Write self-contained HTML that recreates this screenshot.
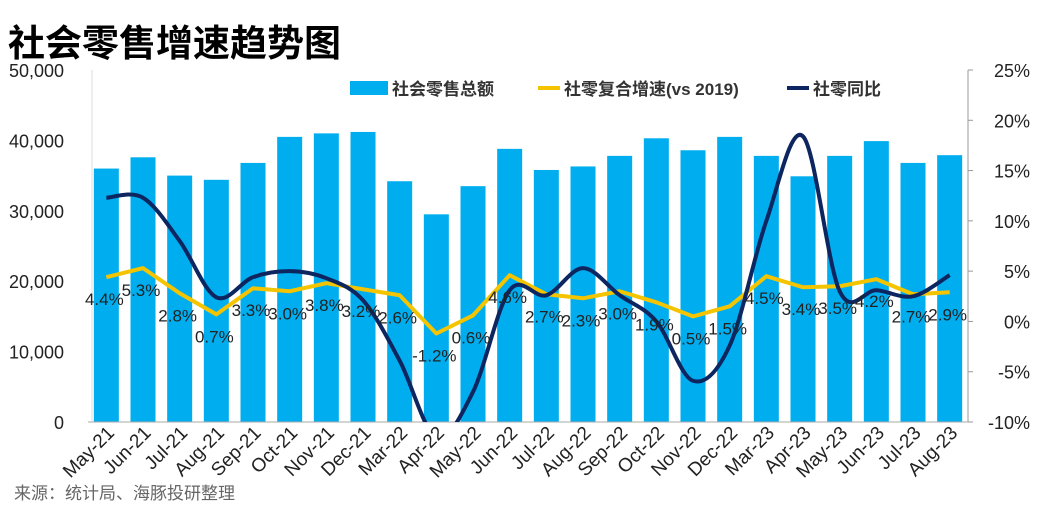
<!DOCTYPE html>
<html><head><meta charset="utf-8"><style>
body{margin:0;background:#fff;width:1050px;height:507px;overflow:hidden;font-family:"Liberation Sans","Noto Sans CJK SC",sans-serif}
</style></head><body>
<svg id="c" width="1050" height="507" xmlns="http://www.w3.org/2000/svg">
<text x="8" y="56" font-size="37" font-weight="bold" font-family="Liberation Sans, Noto Sans CJK SC, sans-serif">社会零售增速趋势图</text>
<text x="14" y="499" font-size="17" fill="#666" font-family="Liberation Sans, Noto Sans CJK SC, sans-serif">来源：统计局、海豚投研整理</text>
<g id="plot"></g>
</svg>
<script>
const categories=["May-21","Jun-21","Jul-21","Aug-21","Sep-21","Oct-21","Nov-21","Dec-21","Mar-22","Apr-22","May-22","Jun-22","Jul-22","Aug-22","Sep-22","Oct-22","Nov-22","Dec-22","Mar-23","Apr-23","May-23","Jun-23","Jul-23","Aug-23"];
const retailTotal=[36000,37600,35000,34400,36800,40500,41000,41200,34200,29500,33500,38800,35800,36300,37800,40300,38600,40500,37800,34900,37800,39900,36800,37900];
const cagrVs2019=[4.4,5.3,2.8,0.7,3.3,3.0,3.8,3.2,2.6,-1.2,0.6,4.6,2.7,2.3,3.0,1.9,0.5,1.5,4.5,3.4,3.5,4.2,2.7,2.9];
const yoy=[12.3,12.3,8.0,2.4,4.4,5.0,4.3,2.1,-3.9,-11.5,-7.0,3.1,2.6,5.3,2.6,0.0,-5.9,-2.4,10.0,18.4,3.0,3.1,2.5,4.6];
const leftTicks=[0,10000,20000,30000,40000,50000];
const rightTicks=[-10,-5,0,5,10,15,20,25];

const NS="http://www.w3.org/2000/svg";
const g=document.getElementById('plot');
const X0=88,X1=968,Y0=422,Y1=70;
const bw=(X1-X0)/categories.length;
const xc=i=>X0+bw*(i+0.5);
const yl=v=>Y0-(v/50000)*(Y0-Y1);
const yr=v=>Y0-((v+10)/35)*(Y0-Y1);
function el(t,a,txt){const e=document.createElementNS(NS,t);for(const k in a)e.setAttribute(k,a[k]);if(txt!=null)e.textContent=txt;g.appendChild(e);return e;}
const fmt=n=>n.toLocaleString('en-US');

const defs=el('defs',{});
const cp=document.createElementNS(NS,'clipPath');cp.setAttribute('id','clip');
const cr=document.createElementNS(NS,'rect');cr.setAttribute('x',X0);cr.setAttribute('y',Y1-10);cr.setAttribute('width',X1-X0);cr.setAttribute('height',Y0-Y1+10);
cp.appendChild(cr);defs.appendChild(cp);

leftTicks.forEach(v=>{
 const t=el('text',{x:64,y:yl(v)+7,'font-size':18,'text-anchor':'end',fill:'#222'},fmt(v));
 
 
});
rightTicks.forEach(v=>{
 const t=el('text',{x:1030,y:yr(v)+7,'font-size':18,'text-anchor':'end',fill:'#222'},v+'%');
 
 
 const m=el('line',{x1:X1,x2:X1+5,y1:yr(v),y2:yr(v),stroke:'#999'});
 
 
});
const ax=el('line',{x1:X1,x2:X1,y1:Y1,y2:Y0,stroke:'#999'});


const ax2=el('line',{x1:92,x2:92,y1:Y1,y2:Y0,stroke:'#ddd'});



retailTotal.forEach((v,i)=>{
 const r=el('rect',{x:xc(i)-12.5,y:yl(v),width:25,height:Y0-yl(v),fill:'#00aeef'});
 
 
});
const xa=el('line',{x1:X0,x2:X1,y1:Y0,y2:Y0,stroke:'#aaa'});



function smooth(pts){let d='M'+pts[0][0]+','+pts[0][1];
 for(let i=0;i<pts.length-1;i++){const p0=pts[i-1]||pts[i],p1=pts[i],p2=pts[i+1],p3=pts[i+2]||p2;
  d+=' C'+(p1[0]+(p2[0]-p0[0])/6)+','+(p1[1]+(p2[1]-p0[1])/6)+' '+(p2[0]-(p3[0]-p1[0])/6)+','+(p2[1]-(p3[1]-p1[1])/6)+' '+p2[0]+','+p2[1];}
 return d;}
const yl1=el('path',{d:'M'+cagrVs2019.map((v,i)=>xc(i)+','+yr(v)).join(' L'),fill:'none',stroke:'#f5c400','stroke-width':4,'stroke-linejoin':'round'});


const nl=el('path',{d:smooth(yoy.map((v,i)=>[xc(i),yr(v)])),fill:'none',stroke:'#0d2660','stroke-width':4,'clip-path':'url(#clip)'});



cagrVs2019.forEach((v,i)=>{
 const t=el('text',{x:xc(i)-2,y:yr(v)+28,'font-size':17,'text-anchor':'middle',fill:'#222'},v.toFixed(1)+'%');
 
 
});
categories.forEach((c,i)=>{
 const t=el('text',{x:xc(i)+9,y:Y0+12,'font-size':19,'text-anchor':'end',fill:'#222',transform:'rotate(-45 '+(xc(i)+9)+' '+(Y0+12)+')'},c);
 
 
});

const lg=[["rect",'#00aeef',"社会零售总额",350],["line",'#f5c400',"社零复合增速(vs 2019)",538],["line",'#0d2660',"社零同比",787]];
lg.forEach(l=>{
 if(l[0]=='rect'){const r=el('rect',{x:l[3],y:81,width:38,height:14,fill:l[1]});}
 else{const r=el('line',{x1:l[3],x2:l[3]+22,y1:88,y2:88,stroke:l[1],'stroke-width':4});}
 const t=el('text',{x:l[3]+(l[0]=='rect'?42:26),y:95,'font-size':17,'font-weight':'bold',fill:'#333','font-family':'Liberation Sans, Noto Sans CJK SC, sans-serif'},l[2]);
 
 
});
</script>
</body></html>
